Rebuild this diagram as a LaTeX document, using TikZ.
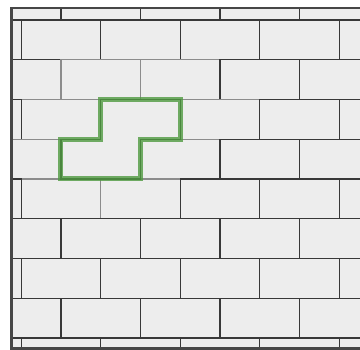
\documentclass[tikz,border=0pt]{standalone}
\usepackage{xcolor}
\usepackage{tikz}
\definecolor{wallbg}{HTML}{EDEDED}
\definecolor{piecegreen}{HTML}{4F9A40}

\begin{document}
\begin{tikzpicture}[
    x=1pt, y=-1pt,
    brick/.style={draw=black!78, line width=1.3pt},
    nbr/.style={draw=black!45, line width=1.3pt},
    frame/.style={draw=black!72, line width=2.8pt},
    outline/.style={draw=piecegreen, line width=5pt, opacity=.8, line join=miter},
  ]
  \useasboundingbox (0,0) rectangle (360,350);
  \fill[wallbg] (11.5,8) rectangle (360,348.5);

  \begin{scope}
    \clip (11.5,8) rectangle (360,348.5);
    % the wall
    \foreach \k in {-1,...,8} {
      \pgfmathsetmacro{\xo}{isodd(\k) ? -18.5 : -58.25}
      \foreach \j in {0,...,5}
        \draw[brick] (\xo+\j*79.5,20+\k*39.75) rectangle ++(79.5,39.75);
    }
    % bricks round the piece, in the order they are laid
    \foreach \k/\x/\s in {1/61/nbr, 1/140.5/nbr, 1/220/brick,
                          2/21.25/nbr, 2/180.25/nbr, 2/259.75/brick, 2/-58.25/brick,
                          3/-18.5/nbr, 3/140.5/nbr, 3/220/brick,
                          4/21.25/nbr, 4/100.75/nbr, 4/180.25/brick, 4/-58.25/brick,
                          5/-18.5/brick, 5/61/brick, 5/140.5/brick}
      \draw[\s] (\x,20+\k*39.75) rectangle ++(79.5,39.75);
  \end{scope}

  % the piece
  \def\piece{(100.75,99.5) -- (180.25,99.5) -- (180.25,139.25) -- (140.5,139.25)
    -- (140.5,179) -- (61,179) -- (61,139.25) -- (100.75,139.25) -- cycle}
  \fill[wallbg] \piece;
  \draw[brick] \piece;
  \draw[outline] \piece;

  \draw[frame] (360,8) -- (11.5,8) -- (11.5,348.5) -- (360,348.5);
\end{tikzpicture}
\end{document}
